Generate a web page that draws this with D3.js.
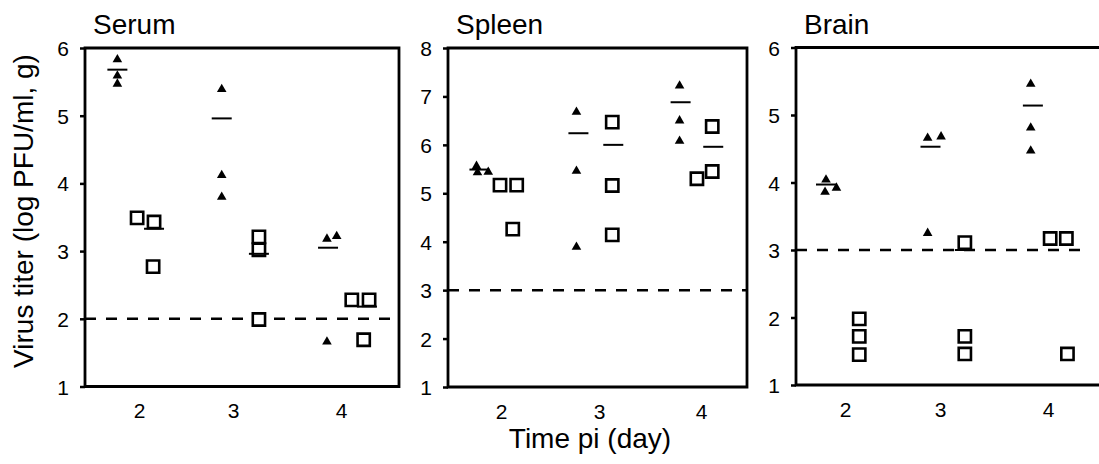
<!DOCTYPE html>
<html>
<head>
<meta charset="utf-8">
<script src="https://cdn.jsdelivr.net/npm/d3@7"></script>
<style>
  html, body { margin: 0; padding: 0; background: #fff; }
  svg { display: block; font-family: "Liberation Sans", Arial, Helvetica, sans-serif; }
</style>
</head>
<body>
<svg id="chart" width="1099" height="464"></svg>
<script>
// categories and axis values
const days = [2, 3, 4];
const panelNames = ['Serum', 'Spleen', 'Brain'];
const yMax = [6, 8, 6];
const detectLimit = [2, 3, 3];

// points: [day position, log titer]
const serumTri = [[1.77, 5.83], [1.77, 5.59], [1.77, 5.47], [2.88, 5.39], [2.88, 4.12], [2.88, 3.80],
    [3.87, 3.18], [3.96, 3.22], [3.87, 1.66]];
const serumSq = [[1.98, 3.49], [2.16, 3.43], [2.15, 2.77], [3.24, 3.21], [3.24, 3.02], [3.24, 1.99],
    [4.10, 2.28], [4.26, 2.28], [4.21, 1.69]];
const serumTriMean = [[1.77, 5.68], [2.88, 4.96], [3.88, 3.05]];
const serumSqMean = [[2.16, 3.33], [3.24, 2.96], [4.24, 2.18]];

const spleenTri = [[1.75, 5.56], [1.76, 5.43], [1.87, 5.44], [2.77, 6.68], [2.77, 5.46], [2.77, 3.89],
    [3.79, 7.22], [3.79, 6.50], [3.79, 6.08]];
const spleenSq = [[1.99, 5.17], [2.16, 5.17], [2.12, 4.26], [3.13, 6.47], [3.13, 5.16], [3.13, 4.14],
    [3.96, 5.30], [4.11, 5.45], [4.11, 6.38]];
const spleenTriMean = [[1.78, 5.49], [2.79, 6.24], [3.80, 6.88]];
const spleenSqMean = [[3.14, 6.00], [4.12, 5.96]];

const brainTri = [[1.80, 4.04], [1.79, 3.86], [1.91, 3.92], [2.87, 4.66], [3.01, 4.68], [2.87, 3.25],
    [3.84, 5.46], [3.84, 4.81], [3.84, 4.47]];
const brainSq = [[2.15, 1.98], [2.15, 1.72], [2.15, 1.45], [3.23, 3.11], [3.23, 1.72], [3.23, 1.46],
    [4.02, 3.17], [4.17, 3.17], [4.18, 1.46]];
const brainTriMean = [[1.80, 3.97], [2.90, 4.53], [3.86, 5.14]];
const brainSqMean = [[3.23, 3.00]];

const triData = [serumTri, spleenTri, brainTri];
const sqData = [serumSq, spleenSq, brainSq];
const triMeans = [serumTriMean, spleenTriMean, brainTriMean];
const sqMeans = [serumSqMean, spleenSqMean, brainSqMean];

// panel frames in pixels
const layout = [
    {left: 85, right: 399, top: 48, bottom: 386.5, dayPx: [139, 233, 341], frameRight: true},
    {left: 448, right: 747, top: 48, bottom: 387, dayPx: [501, 599, 701], frameRight: true},
    {left: 796, right: 1104, top: 47.5, bottom: 385, dayPx: [845, 940, 1048], frameRight: false},
];

const svg = d3.select('#chart');
const meanHalf = 10;

layout.forEach(function(p, i) {
    const g = svg.append('g');
    const x = d3.scaleLinear().domain(days).range(p.dayPx);
    const y = d3.scaleLinear().domain([1, yMax[i]]).range([p.bottom, p.top]);

    // detection limit
    g.append('line')
        .attr('x1', p.left).attr('x2', p.frameRight ? p.right : 1089)
        .attr('y1', y(detectLimit[i])).attr('y2', y(detectLimit[i]))
        .attr('stroke', '#000')
        .attr('stroke-width', 2.5)
        .attr('stroke-dasharray', '11,10');

    g.selectAll('.sq')
        .data(sqData[i])
        .enter().append('path')
        .attr('class', 'sq')
        .attr('transform', function(d) { return 'translate(' + x(d[0]) + ',' + y(d[1]) + ')'; })
        .attr('d', d3.symbol(d3.symbolSquare).size(150))
        .attr('fill', '#fff')
        .attr('stroke', '#000')
        .attr('stroke-width', 2.6);

    g.selectAll('.tri')
        .data(triData[i])
        .enter().append('path')
        .attr('class', 'tri')
        .attr('transform', function(d) { return 'translate(' + x(d[0]) + ',' + y(d[1]) + ')'; })
        .attr('d', d3.symbol(d3.symbolTriangle).size(40))
        .attr('fill', '#000');

    g.selectAll('.mean')
        .data(triMeans[i].concat(sqMeans[i]))
        .enter().append('line')
        .attr('class', 'mean')
        .attr('x1', function(d) { return x(d[0]) - meanHalf; })
        .attr('x2', function(d) { return x(d[0]) + meanHalf; })
        .attr('y1', function(d) { return y(d[1]); })
        .attr('y2', function(d) { return y(d[1]); })
        .attr('stroke', '#000')
        .attr('stroke-width', 2);

    // frame
    const frame = d3.path();
    if (p.frameRight) {
        frame.rect(p.left, p.top, p.right - p.left, p.bottom - p.top);
    } else {
        frame.moveTo(1110, p.top);
        frame.lineTo(p.left, p.top);
        frame.lineTo(p.left, p.bottom);
        frame.lineTo(1110, p.bottom);
    }
    g.append('path')
        .attr('d', frame.toString())
        .attr('fill', 'none')
        .attr('stroke', '#000')
        .attr('stroke-width', 2.8);

    const yAxis = g.append('g')
        .attr('transform', 'translate(' + p.left + ',0)')
        .call(d3.axisLeft(y).tickValues(d3.range(1, yMax[i] + 1)).tickSize(5).tickPadding(11).tickFormat(d3.format('d')));
    yAxis.select('.domain').remove();
    yAxis.selectAll('line').attr('stroke-width', 2.5);
    yAxis.selectAll('text')
        .style('font-size', '21px')
        .style('font-family', '"Liberation Sans", Arial, sans-serif')
        .attr('dy', '0.36em')
        .attr('fill', '#000');

    const xAxis = g.append('g')
        .attr('transform', 'translate(0,' + p.bottom + ')')
        .call(d3.axisBottom(x).tickValues(days).tickSize(0).tickPadding(17).tickFormat(d3.format('d')));
    xAxis.select('.domain').remove();
    xAxis.selectAll('text')
        .style('font-size', '21px')
        .style('font-family', '"Liberation Sans", Arial, sans-serif')
        .attr('fill', '#000');

    g.append('text')
        .attr('x', p.left + 8)
        .attr('y', 34)
        .style('font-size', '28px')
        .text(panelNames[i]);
});

svg.append('text')
    .attr('transform', 'translate(33,211) rotate(-90)')
    .attr('text-anchor', 'middle')
    .style('font-size', '28px')
    .text('Virus titer (log PFU/ml, g)');

svg.append('text')
    .attr('x', 590)
    .attr('y', 448)
    .attr('text-anchor', 'middle')
    .style('font-size', '28px')
    .text('Time pi (day)');
</script>
</body>
</html>
